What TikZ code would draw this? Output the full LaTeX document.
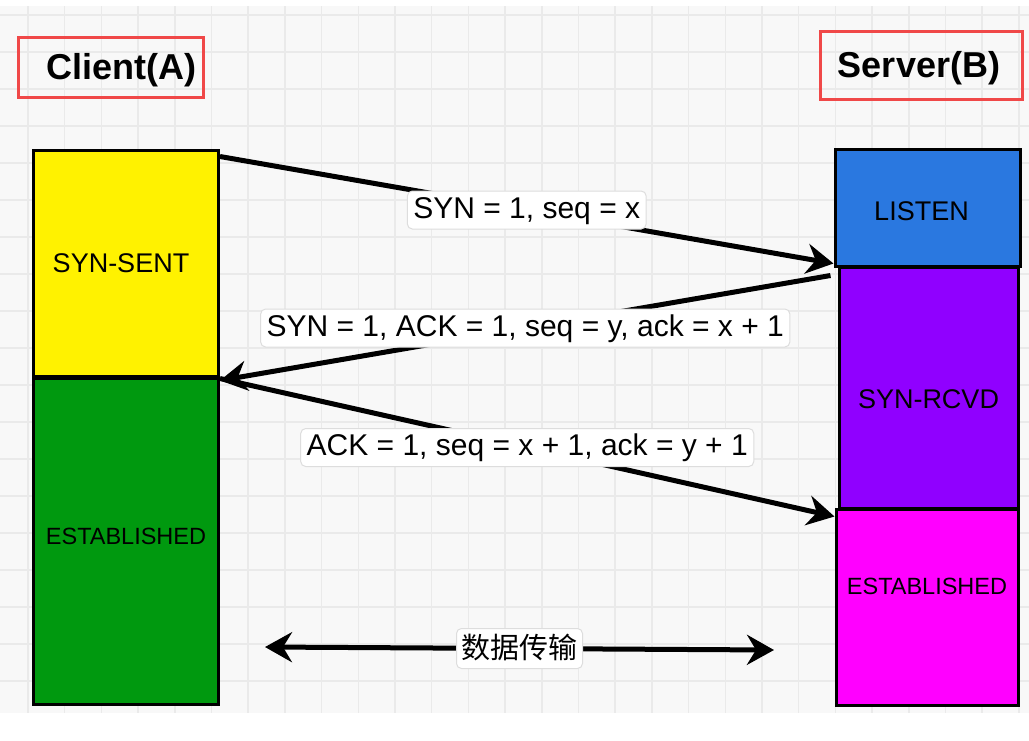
\documentclass[tikz,border=0pt]{standalone}
\usepackage{fontspec}
\setmainfont{Liberation Sans}
\newfontfamily\cjk{Noto Sans CJK SC}
\usetikzlibrary{arrows.meta,calc}
\definecolor{gridbg}{HTML}{F8F8F8}
\definecolor{gridln}{HTML}{EAEAEA}
\definecolor{titlered}{HTML}{F04848}
\definecolor{cgreen}{HTML}{00990F}
\definecolor{cblue}{HTML}{2A78E0}
\definecolor{cpurple}{HTML}{9000FF}
\definecolor{cmagenta}{HTML}{FF00FF}
\definecolor{lblborder}{HTML}{DDDDDD}
\begin{document}
\begin{tikzpicture}[x=1pt,y=-1pt,
  statebox/.style={draw=black, line width=3pt, inner sep=0pt},
  titlebox/.style={draw=titlered, line width=3pt, inner sep=0pt},
  msg/.style={fill=white, draw=lblborder, line width=1pt, rounded corners=5pt,
    font=\fontsize{30}{36}\selectfont, text height=22pt, text depth=6pt,
    inner xsep=6pt, inner ysep=5pt},
  flow/.style={line width=5pt, -{Stealth[length=27pt,width=30pt,inset=9pt]}},
  bigfont/.style={font=\fontsize{27}{32}\selectfont},
  smallfont/.style={font=\fontsize{23.5}{28}\selectfont},
  titlefont/.style={font=\bfseries\fontsize{36}{42}\selectfont}
]
\useasboundingbox (0,0) rectangle (1029,740);
\fill[white] (0,0) rectangle (1029,740);
\fill[gridbg] (0,6) rectangle (1029,713);
\foreach \i in {0,...,27} \draw[gridln, line width=1.5pt] ({28+36.7*\i},6) -- ({28+36.7*\i},713);
\foreach \j in {0,...,18} \draw[gridln, line width=1.5pt] (0,{15+37*\j}) -- (1029,{15+37*\j});

% titles
\node[titlebox, minimum width=185pt, minimum height=60pt,
  label={[titlefont, xshift=11pt, yshift=-3pt]center:Client(A)}] (client) at (110.5,67) {};
\node[titlebox, minimum width=202pt, minimum height=68pt,
  label={[titlefont, xshift=-2pt, yshift=-3pt]center:Server(B)}] (server) at (921,65) {};

% client states
\node[statebox, fill=yellow, minimum width=185pt, minimum height=226pt,
  label={[bigfont, xshift=-5pt]center:SYN-SENT}] (synsent) at (126,263) {};
\node[statebox, fill=cgreen, minimum width=185pt, minimum height=326pt,
  label={[smallfont, yshift=5pt]center:ESTABLISHED}] (estA) at (126,541) {};

% server states
\node[statebox, fill=cblue, minimum width=185pt, minimum height=117pt,
  label={[bigfont, xshift=-6pt, yshift=-4pt]center:LISTEN}] (listen) at (927.5,207.5) {};
\node[statebox, fill=cpurple, minimum width=179pt, minimum height=241pt,
  label={[bigfont, yshift=-12pt]center:SYN-RCVD}] (rcvd) at (928.5,387.5) {};
\node[statebox, fill=cmagenta, minimum width=182pt, minimum height=196pt,
  label={[smallfont, yshift=21pt]center:ESTABLISHED}] (estB) at (927,607) {};

% messages
\draw[flow] ($(synsent.north east)+(0,8)$) -- node[msg]{SYN = 1, seq = x} ($(listen.south west)+(0,-4)$);
\draw[flow] ($(listen.south west)+(-3,8)$) -- node[msg]{SYN = 1, ACK = 1, seq = y, ack = x + 1} ($(synsent.south east)+(0,3)$);
\draw[flow] ($(estA.north east)+(0,2)$) -- node[msg]{ACK = 1, seq = x + 1, ack = y + 1} ($(estB.north west)+(0,9)$);

% data transfer
\coordinate (dl) at (265,647);
\coordinate (dr) at (774,650);
\draw[line width=5pt, {Stealth[length=27pt,width=30pt,inset=9pt]}-{Stealth[length=27pt,width=30pt,inset=9pt]}] (dl) -- node[msg, font=\cjk\fontsize{29}{34}\selectfont, text height=25pt, text depth=5pt, inner xsep=5pt]{数据传输} (dr);
\end{tikzpicture}
\end{document}
